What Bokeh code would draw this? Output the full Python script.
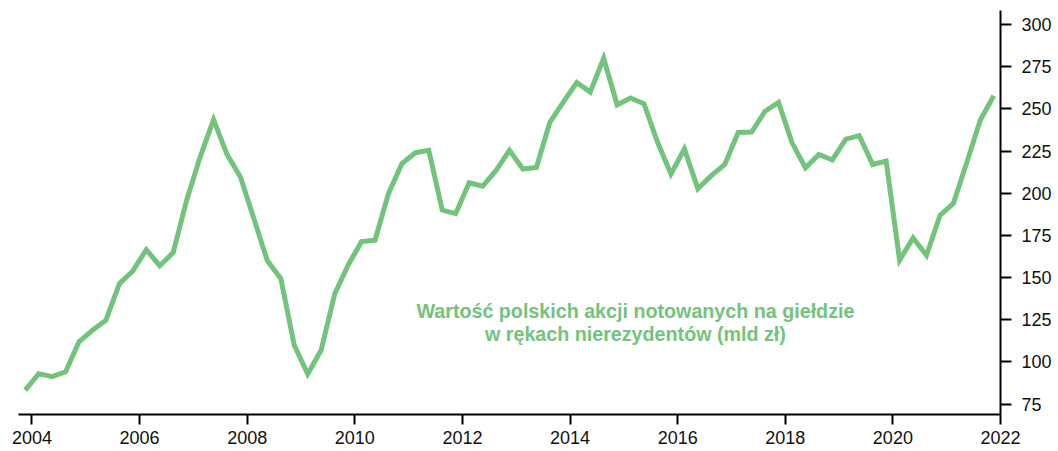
from bokeh.plotting import figure
from bokeh.models import FixedTicker, Range1d, Label, LinearAxis, ColumnDataSource
from bokeh.embed import file_html
from bokeh.resources import INLINE

# quarterly observations, Q4 2003 .. Q4 2021 (plotted at mid-quarter)
start_year = 2003.875
step = 0.25
values = [
    83.3, 93.0, 91.2, 94.1, 111.9, 118.8, 124.7, 146.4, 153.9, 166.5,
    157.0, 164.8, 195.8, 221.4, 243.6, 223.0, 209.6, 184.9, 159.9, 149.4,
    109.9, 92.8, 107.0, 140.1, 157.3, 171.3, 172.1, 199.7, 217.5, 224.0,
    225.4, 190.0, 187.9, 206.2, 204.1, 213.5, 225.4, 214.3, 215.3, 242.0,
    254.0, 265.6, 259.9, 280.0, 252.4, 256.4, 253.0, 230.3, 211.4, 226.2,
    202.7, 210.4, 217.0, 236.0, 236.2, 248.6, 253.8, 230.0, 215.0, 223.0,
    219.7, 232.0, 234.1, 217.0, 219.0, 160.3, 173.5, 163.2, 186.8, 194.0,
    218.3, 243.4, 257.8,
]
dates = [start_year + step * i for i in range(len(values))]

x_ticks = [2004, 2006, 2008, 2010, 2012, 2014, 2016, 2018, 2020, 2022]
y_ticks = [75, 100, 125, 150, 175, 200, 225, 250, 275, 300]
label_lines = ["Wartość polskich akcji notowanych na giełdzie",
               "w rękach nierezydentów (mld zł)"]

GREEN = "#72c47a"
FONT = "Liberation Sans"

p = figure(width=1058, height=451, output_backend="svg", toolbar_location=None,
           x_range=Range1d(2003.75, 2022.0), y_range=Range1d(68.8, 308.3),
           y_axis_location=None, min_border_left=18, min_border_top=10,
           min_border_right=58, min_border_bottom=37)
p.outline_line_color = None
p.xgrid.visible = False
p.ygrid.visible = False
p.background_fill_color = "white"
p.border_fill_color = "white"

src = ColumnDataSource(dict(x=dates, y=values))
p.line("x", "y", source=src, line_color=GREEN, line_width=5, line_join="miter")

# axes
xa = p.xaxis[0]
xa.ticker = FixedTicker(ticks=x_ticks)
yax = LinearAxis(ticker=FixedTicker(ticks=y_ticks))
p.add_layout(yax, "right")
for ax in (xa, yax):
    ax.axis_line_color = "black"
    ax.axis_line_width = 2
    ax.major_tick_line_color = "black"
    ax.major_tick_line_width = 2
    ax.minor_tick_line_color = None
    ax.major_tick_in = 0
    ax.major_label_text_font = FONT
    ax.major_label_text_font_size = "18px"
    ax.major_label_text_color = "#111111"
xa.major_tick_out = 10
xa.major_label_standoff = 6
yax.major_tick_out = 11
yax.major_label_standoff = 10

label_x = 2015.215
label_y = [130.0, 116.6]
for txt, yy in zip(label_lines, label_y):
    p.add_layout(Label(x=label_x, y=yy, text=txt, text_align="center",
                       text_baseline="middle", text_color=GREEN,
                       text_font=FONT, text_font_style="bold",
                       text_font_size="19.7px"))

open("out.html", "w").write(file_html(p, INLINE))
